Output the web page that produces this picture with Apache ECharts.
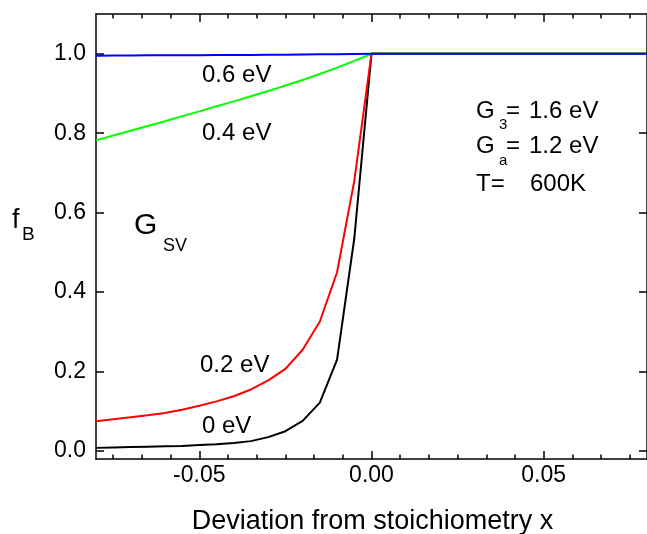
<!DOCTYPE html>
<html>
<head>
<meta charset="utf-8">
<script src="https://cdn.jsdelivr.net/npm/echarts@6/dist/echarts.min.js"></script>
<style>
html,body{margin:0;padding:0;background:#fff;}
#chart{width:647px;height:534px;}
</style>
</head>
<body>
<div id="chart"></div>
<script>
// ---- data ----
const xValues = [-0.08, -0.075, -0.07, -0.065, -0.06, -0.055, -0.05, -0.045, -0.04, -0.035, -0.03, -0.025, -0.02, -0.015, -0.01, -0.005, 0.0, 0.08];
const fB_0eV  = [0.008, 0.009, 0.010, 0.011, 0.012, 0.013, 0.015, 0.017, 0.020, 0.025, 0.035, 0.050, 0.076, 0.122, 0.230, 0.535, 1.0, 1.0];
const fB_02eV = [0.075, 0.080, 0.085, 0.090, 0.096, 0.104, 0.114, 0.125, 0.138, 0.155, 0.178, 0.207, 0.255, 0.326, 0.450, 0.680, 1.0, 1.0];
const fB_04eV = [0.782, 0.794, 0.806, 0.818, 0.830, 0.843, 0.855, 0.868, 0.880, 0.893, 0.906, 0.920, 0.934, 0.949, 0.965, 0.982, 1.0, 1.0];
const fB_06eV = [0.995, 0.9953, 0.9956, 0.9959, 0.996, 0.9962, 0.9964, 0.9966, 0.9968, 0.997, 0.9973, 0.9976, 0.998, 0.9984, 0.9988, 0.9994, 1.0, 1.0];
const seriesNames = ['0 eV', '0.2 eV', '0.4 eV', '0.6 eV'];
const xMajorTicks = [-0.05, 0, 0.05];
const xMinorTicks = [-0.075, -0.066667, -0.058333, -0.041667, -0.033333, -0.025, -0.016667, -0.008333, 0.008333, 0.016667, 0.025, 0.033333, 0.041667, 0.058333, 0.066667, 0.075];
const yMajorTicks = [0, 0.2, 0.4, 0.6, 0.8, 1.0];
const xAxisTitle = 'Deviation from stoichiometry x';

// ---- chart ----
const FONT = '"Liberation Sans", Arial, sans-serif';
const chart = echarts.init(document.getElementById('chart'), null, {renderer: 'canvas'});
const pair = (xs, ys) => xs.map((x, i) => [x, ys[i]]);
const lineCol = '#000';

function xAxisDef(pos, ticks, len, showLine, showLabel) {
  return {
    type: 'value', position: pos, min: -0.08, max: 0.08, gridIndex: 0,
    axisLine: {show: showLine, onZero: false, lineStyle: {color: lineCol, width: 1.5}},
    axisTick: {show: true, inside: true, length: len, customValues: ticks, lineStyle: {color: lineCol, width: 1.5}},
    axisLabel: showLabel ? {show: true, customValues: ticks, margin: 5, color: '#000', fontSize: 23, fontFamily: FONT,
      formatter: v => (Math.abs(v) < 1e-9 ? 0 : v).toFixed(2)} : {show: false},
    splitLine: {show: false}
  };
}
function yAxisDef(pos, showLabel) {
  return {
    type: 'value', position: pos, min: -0.02, max: 1.1, gridIndex: 0,
    axisLine: {show: true, onZero: false, lineStyle: {color: lineCol, width: 1.5}},
    axisTick: {show: true, inside: true, length: 8, customValues: yMajorTicks, lineStyle: {color: lineCol, width: 1.5}},
    axisLabel: showLabel ? {show: true, customValues: yMajorTicks, margin: 10, color: '#000', fontSize: 23, fontFamily: FONT,
      formatter: v => v.toFixed(1)} : {show: false},
    splitLine: {show: false}
  };
}

const colors = ['#000000', '#ff0000', '#00ff00', '#0000ff'];
const datas = [fB_0eV, fB_02eV, fB_04eV, fB_06eV];

function txt(x, y, text, size, align) {
  return {type: 'text', x: x, y: y, z: 100, style: {text: text, fill: '#000', font: size + 'px ' + FONT,
    textAlign: align || 'left', textVerticalAlign: 'middle'}};
}

const option = {
  animation: false,
  backgroundColor: '#fff',
  grid: {left: 96, top: 14, width: 553, height: 445, containLabel: false},
  xAxis: [
    xAxisDef('bottom', xMajorTicks, 8, true, true),
    xAxisDef('bottom', xMinorTicks, 4.5, false, false),
    xAxisDef('top', xMajorTicks, 8, true, false),
    xAxisDef('top', xMinorTicks, 4.5, false, false)
  ],
  yAxis: [yAxisDef('left', true), yAxisDef('right', false)],
  series: datas.map((d, i) => ({
    name: seriesNames[i], type: 'line', xAxisIndex: 0, yAxisIndex: 0,
    data: pair(xValues, d), showSymbol: false, symbol: 'none', smooth: false,
    lineStyle: {color: colors[i], width: 2}, z: 2 + i
  })),
  graphic: [
    txt(202, 75, '0.6 eV', 24),
    txt(202, 133, '0.4 eV', 24),
    txt(200, 365, '0.2 eV', 24),
    txt(202, 426, '0 eV', 24),
    txt(134, 226, 'G', 30),
    txt(163, 246.5, 'SV', 18),
    txt(12, 220.5, 'f', 27),
    txt(22, 234.5, 'B', 19),
    txt(476, 111.5, 'G', 24),
    txt(499, 125, '3', 15),
    txt(506, 111.5, '=', 24),
    txt(529, 111.5, '1.6 eV', 24),
    txt(476, 146, 'G', 24),
    txt(499, 161, 'a', 15),
    txt(506, 146, '=', 24),
    txt(529, 146, '1.2 eV', 24),
    txt(476, 184, 'T=', 24),
    txt(530, 184, '600K', 24),
    txt(372.5, 522, xAxisTitle, 27, 'center')
  ]
};
chart.setOption(option);
</script>
</body>
</html>
